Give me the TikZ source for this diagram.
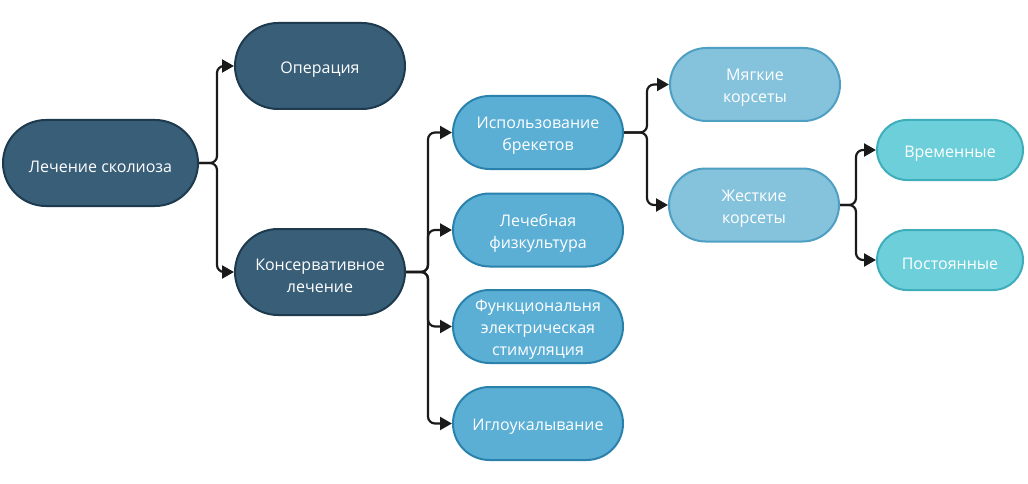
\documentclass[tikz,border=0pt]{standalone}
\usepackage{fontspec}
\setmainfont{Open Sans}
\usetikzlibrary{shapes.misc,arrows.meta}
\definecolor{cdark}{HTML}{385E78}
\definecolor{cdarkb}{HTML}{1E3A4E}
\definecolor{cblue}{HTML}{5BAFD5}
\definecolor{cblueb}{HTML}{2A82AC}
\definecolor{clight}{HTML}{85C3DD}
\definecolor{clightb}{HTML}{4E9FC2}
\definecolor{ccyan}{HTML}{6DCFDA}
\definecolor{ccyanb}{HTML}{3FAEBB}
\definecolor{cline}{HTML}{1A1A1A}
\tikzset{
  pill/.style={rounded rectangle, draw, line width=2pt, inner sep=0pt},
  txt/.style={text=white, align=center, inner sep=0pt,
    font=\fontsize{16}{22}\selectfont},
  lvA/.style={pill, fill=cdark, draw=cdarkb, minimum width=170pt, minimum height=86pt},
  lvB/.style={pill, fill=cblue, draw=cblueb, minimum width=170pt, minimum height=73pt},
  lvC/.style={pill, fill=clight, draw=clightb, minimum width=170pt, minimum height=73pt},
  lvD/.style={pill, fill=ccyan, draw=ccyanb, minimum width=146pt, minimum height=60pt},
  conn/.style={draw=cline, line width=2.2pt, rounded corners=7pt,
    -{Triangle[length=12pt,width=13pt]}}
}
\begin{document}
\begin{tikzpicture}[x=1pt,y=-1pt]
\useasboundingbox (0,0) rectangle (1028,484);
\node[lvA, minimum width=195pt] (root) at (100.5,163) {};
\node[lvA] (op) at (320,66) {};
\node[lvA] (kons) at (320,272) {};
\node[lvB] (isp) at (538,132.5) {};
\node[lvB] (lfk) at (538,230) {};
\node[lvB] (fes) at (538,326.5) {};
\node[lvB] (igl) at (538,423.5) {};
\node[lvC] (myag) at (755,84.5) {};
\node[lvC] (zhest) at (754,205) {};
\node[lvD] (vrem) at (950,150) {};
\node[lvD] (post) at (950,260) {};
\node[txt] (root-t) at ([yshift=-3.5pt]root.center) {Лечение сколиоза};
\node[txt] (op-t) at ([yshift=-3.5pt]op.center) {Операция};
\node[txt] (kons-t) at ([yshift=-3.5pt]kons.center) {Консервативное\\лечение};
\node[txt] (isp-t) at ([yshift=-3.5pt]isp.center) {Использование\\брекетов};
\node[txt] (lfk-t) at ([yshift=-3.5pt]lfk.center) {Лечебная\\физкультура};
\node[txt] (fes-t) at ([yshift=-3.5pt]fes.center) {Функциональня\\электрическая\\стимуляция};
\node[txt] (igl-t) at ([yshift=-3.5pt]igl.center) {Иглоукалывание};
\node[txt] (myag-t) at ([yshift=-3.5pt]myag.center) {Мягкие\\корсеты};
\node[txt] (zhest-t) at ([yshift=-3.5pt]zhest.center) {Жесткие\\корсеты};
\node[txt] (vrem-t) at ([yshift=-3.5pt]vrem.center) {Временные};
\node[txt] (post-t) at ([yshift=-3.5pt]post.center) {Постоянные};
\coordinate (t1) at (217,0);
\coordinate (t2) at (428,0);
\coordinate (t3) at (647,0);
\coordinate (t4) at (856,0);
\draw[conn] (root.east) -- (root.east -| t1) |- (op.west);
\draw[conn] (root.east) -- (root.east -| t1) |- (kons.west);
\foreach \c in {isp,lfk,fes,igl}{
  \draw[conn] (kons.east) -- (kons.east -| t2) |- (\c.west);
}
\foreach \c in {myag,zhest}{
  \draw[conn] (isp.east) -- (isp.east -| t3) |- (\c.west);
}
\foreach \c in {vrem,post}{
  \draw[conn] (zhest.east) -- (zhest.east -| t4) |- (\c.west);
}
\end{tikzpicture}
\end{document}
